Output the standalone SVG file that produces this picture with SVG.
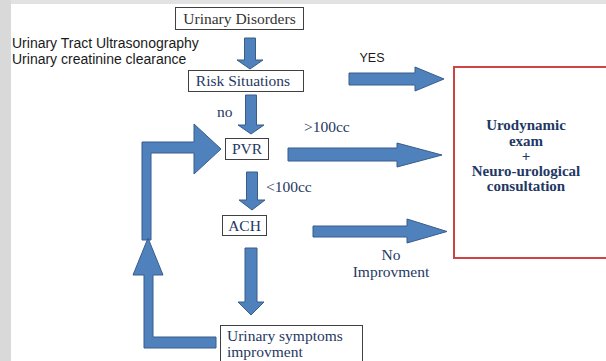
<svg xmlns="http://www.w3.org/2000/svg" width="606" height="361" viewBox="0 0 606 361">
  <style>
    .box { fill: #ffffff; stroke: #404040; stroke-width: 1; }
    .arrow { fill: #4f81bd; stroke: #385d8a; stroke-width: 1; stroke-linejoin: miter; }
    .lbl { font-family: "Liberation Serif", "Times New Roman", serif; font-size: 15.5px; fill: #1f3864; }
    .dark { fill: #333333; }
    .sans { font-family: "Liberation Sans", Arial, sans-serif; font-size: 14px; fill: #1a1a1a; }
    .bold { font-family: "Liberation Serif", "Times New Roman", serif; font-size: 15px; font-weight: bold; fill: #1f3864; }
  </style>

  <!-- page background -->
  <rect x="0" y="0" width="606" height="361" fill="#e2e2e2"/>
  <rect x="0" y="0" width="11" height="361" fill="#d9d9d9"/>
  <rect x="11" y="4" width="595" height="357" fill="#ffffff"/>

  <!-- side notes -->
  <g id="notes">
    <text class="sans" x="12" y="48">Urinary Tract Ultrasonography</text>
    <text class="sans" x="12" y="64">Urinary creatinine clearance</text>
  </g>

  <!-- connectors -->
  <g id="connectors">
    <!-- vertical flow -->
    <polygon class="arrow" points="244.5,38 255.5,38 255.5,60 263,60 250,69 237,60 244.5,60"/>
    <polygon class="arrow" points="245.5,95 256.5,95 256.5,125 264,125 251,134 238,125 245.5,125"/>
    <polygon class="arrow" points="246.5,172 257.5,172 257.5,200 265,200 252,210 239,200 246.5,200"/>
    <polygon class="arrow" points="245,248 257,248 257,302 264,302 251,315 238,302 245,302"/>
    <!-- to the exam box -->
    <polygon class="arrow" points="349,73 415,73 415,67 444,79 415,91 415,85 349,85"/>
    <polygon class="arrow" points="288,148 397,148 397,143 442,155 397,167 397,161 288,161"/>
    <polygon class="arrow" points="313,226 407,226 407,219 447,231.5 407,243 407,237 313,237"/>
    <!-- feedback loop -->
    <polygon class="arrow" points="142,240 142,142 194,142 194,124 221,149 194,174 194,153 151,153 151,240"/>
    <polygon class="arrow" points="148,238 163,275 153,275 153,337 216,337 216,348 144,348 144,275 133,275"/>
  </g>

  <!-- labels on connectors -->
  <g id="edge-labels">
    <text class="sans" x="372" y="62" text-anchor="middle" style="font-size:12.5px">YES</text>
    <text class="lbl" x="217" y="117">no</text>
    <text class="lbl" x="304" y="132">&gt;100cc</text>
    <text class="lbl" x="266" y="192">&lt;100cc</text>
    <text class="lbl" x="391" y="260" text-anchor="middle">No</text>
    <text class="lbl" x="391" y="277" text-anchor="middle">Improvment</text>
  </g>

  <g id="urinary-disorders">
    <rect class="box" x="175.5" y="7.5" width="128" height="22"/>
    <text class="lbl dark" x="239.5" y="23.5" text-anchor="middle">Urinary Disorders</text>
  </g>

  <g id="risk-situations">
    <rect class="box" x="188.5" y="70.5" width="115" height="21"/>
    <text class="lbl" x="243" y="85.5" text-anchor="middle">Risk Situations</text>
  </g>

  <g id="pvr">
    <rect class="box" x="225.5" y="138.5" width="43" height="21"/>
    <text class="lbl" x="247" y="154" text-anchor="middle">PVR</text>
  </g>

  <g id="ach">
    <rect class="box" x="222.5" y="215.5" width="44" height="20"/>
    <text class="lbl" x="244.5" y="231" text-anchor="middle">ACH</text>
  </g>

  <g id="symptoms-improvment">
    <rect class="box" x="220.5" y="325.5" width="142" height="40"/>
    <text class="lbl" x="227" y="341">Urinary symptoms</text>
    <text class="lbl" x="227" y="357">improvment</text>
  </g>

  <g id="urodynamic-exam">
    <rect x="454" y="67" width="156" height="191" fill="#ffffff" stroke="#cc4444" stroke-width="2"/>
    <text class="bold" x="526" y="130" text-anchor="middle">Urodynamic</text>
    <text class="bold" x="526" y="146" text-anchor="middle">exam</text>
    <text class="bold" x="526" y="161" text-anchor="middle">+</text>
    <text class="bold" x="526" y="176" text-anchor="middle">Neuro-urological</text>
    <text class="bold" x="526" y="191" text-anchor="middle">consultation</text>
  </g>
</svg>
